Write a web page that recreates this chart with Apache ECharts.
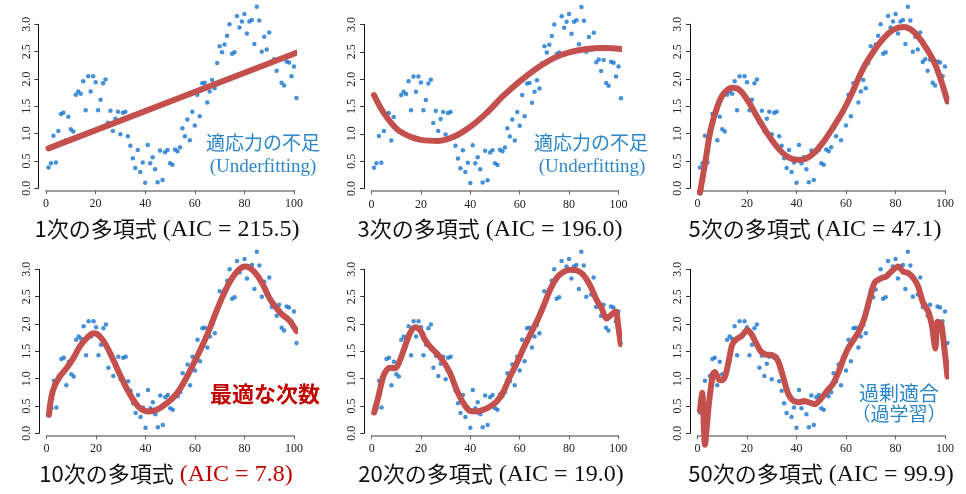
<!DOCTYPE html>
<html><head><meta charset="utf-8">
<script src="https://cdn.jsdelivr.net/npm/echarts@6/dist/echarts.min.js"></script>
<style>html,body{margin:0;padding:0;background:#fff}#c{width:966px;height:494px}</style>
</head><body><div id="c"></div>
<script>
// observed data (x = 1..101)
const obsY = [0.38,0.46,0.96,0.47,1.05,1.36,1.38,0.88,1.31,1.08,
1.04,1.71,1.77,1.73,1.96,1.43,2.05,1.77,2.05,1.94,
1.43,1.62,1.92,1.99,1.20,1.42,1.05,1.27,1.40,0.99,
1.38,1.40,0.95,0.78,0.55,0.37,0.70,0.30,0.47,0.10,
0.79,0.46,0.57,0.35,0.11,0.69,0.15,0.66,0.70,0.46,
0.43,0.71,0.68,0.75,1.10,0.95,1.26,0.88,1.40,1.15,
1.71,1.32,1.92,1.93,1.57,1.77,1.98,1.83,2.29,2.60,
2.49,2.63,2.79,3.00,2.46,2.49,3.15,2.94,3.05,3.19,
2.83,3.05,3.08,2.64,3.32,3.07,2.50,2.77,2.54,2.85,
2.31,2.36,2.15,2.35,1.93,1.88,2.32,2.30,2.05,2.23,1.65];

// fitted curves [x, y]
const fit1 = [[1,0.73],[101,2.48]];
const fit3 = [[1,1.71],[5,1.38],[10,1.10],[15,0.96],[20,0.89],[27,0.87],[33,0.94],[40,1.13],[47,1.40],[53,1.68],[60,1.96],[67,2.20],[74,2.39],[80,2.49],[87,2.55],[94,2.57],[101,2.55]];
const fit5 = [[1,-0.08],[3.3,0.52],[5.3,1.07],[8,1.49],[10.7,1.74],[14,1.84],[16.7,1.81],[20.1,1.62],[24.1,1.31],[28.1,1.01],[32.1,0.76],[36.2,0.58],[40.2,0.52],[42.9,0.53],[46.9,0.64],[50.9,0.85],[55,1.13],[59,1.43],[63,1.80],[67,2.20],[71.1,2.50],[75.1,2.74],[79.1,2.90],[83.2,2.95],[87.2,2.87],[91.2,2.65],[95.2,2.35],[97.9,2.04],[101,1.59]];
const fit10 = [[1,0.34],[2,0.67],[3.4,0.88],[5.4,1.04],[8.1,1.19],[10.8,1.37],[13.5,1.59],[16.2,1.74],[19.2,1.83],[21.6,1.77],[24.3,1.59],[27,1.34],[29.7,1.07],[32.4,0.82],[35.1,0.61],[37.8,0.46],[41.2,0.40],[44.6,0.43],[48.6,0.55],[52.7,0.73],[56.8,1.04],[60.8,1.40],[64.9,1.80],[68.9,2.26],[73,2.68],[77,2.96],[80.4,3.05],[83.8,2.96],[87.2,2.74],[90.5,2.44],[94.6,2.20],[98,2.07],[101,1.87]];
const fit20 = [[1,0.38],[2.7,0.67],[4.7,1.04],[6.1,1.16],[7.4,1.20],[9.5,1.19],[11.5,1.34],[13.5,1.59],[15.5,1.83],[17.6,1.94],[19.6,1.89],[21.6,1.71],[23.6,1.59],[26.4,1.46],[29.1,1.31],[31.8,1.10],[34.5,0.79],[37.2,0.55],[39.9,0.41],[42.6,0.40],[45.3,0.43],[48,0.49],[50.7,0.58],[53.4,0.76],[56.1,1.04],[58.8,1.28],[61.5,1.55],[64.2,1.80],[66.9,2.04],[69.6,2.32],[72.3,2.62],[75,2.84],[77.7,2.95],[80.4,2.99],[83.1,2.98],[85.8,2.90],[88.5,2.71],[91.2,2.44],[93.2,2.29],[95.3,2.10],[96.9,2.16],[98.9,2.23],[100,1.95],[101,1.63]];
const fit50 = [[1,0.42],[1.9,0.74],[3.0,-0.21],[4.5,0.50],[6.2,1.08],[7,1.12],[8.7,0.98],[10,0.97],[11.3,1.06],[12.7,1.34],[14,1.62],[15.7,1.72],[17.8,1.78],[20.1,1.89],[21.7,1.82],[23.7,1.65],[25.7,1.49],[27.8,1.44],[30.2,1.43],[32.4,1.34],[34.5,1.05],[36.5,0.74],[38.6,0.60],[41.3,0.57],[42.9,0.59],[45.4,0.56],[47.4,0.53],[49.5,0.61],[52.1,0.76],[54.8,0.91],[56.8,1.10],[58.8,1.34],[60.8,1.55],[63.5,1.74],[65.5,1.89],[67.6,2.13],[69.6,2.47],[71.6,2.76],[74.3,2.84],[76.3,2.87],[78.3,2.96],[81.1,3.05],[83.1,2.96],[85.1,2.93],[87.2,2.84],[89.2,2.68],[91.2,2.38],[93.2,2.23],[94.7,1.98],[96.1,1.55],[97.0,2.04],[98.4,2.01],[99.5,1.65],[101,1.04]];

const fits = [fit1, fit3, fit5, fit10, fit20, fit50];
const smoothness = [0, 0.4, 0.4, 0.4, 0.35, 0.25];
const degreeLabels = ['1次の多項式', '3次の多項式', '5次の多項式', '10次の多項式', '20次の多項式', '50次の多項式'];
const aicLabels = ['(AIC = 215.5)', '(AIC = 196.0)', '(AIC = 47.1)', '(AIC = 7.8)', '(AIC = 19.0)', '(AIC = 99.9)'];
const xTicks = [0, 100, 20];
const yTicks = [0, 3, 0.5];

const layout = [
  {left:46, top:24.3, w:248, tx:167, ty:229},
  {left:371.5, top:24.5, w:247, tx:490, ty:229},
  {left:697.5, top:24.3, w:247.5, tx:815, ty:229},
  {left:46.5, top:269.3, w:247.5, tx:166, ty:474},
  {left:371.7, top:269.3, w:246.6, tx:491, ty:474},
  {left:697.5, top:269.3, w:247.5, tx:821, ty:474}
];
const H = 164;
const ptColor = '#1874cd';
const lnColor = '#c4504d';
const serif = '"Liberation Serif"';
const cjk = '"Noto Sans CJK JP"';
const cjkFont = '22px "Noto Sans CJK JP"';
const serifFont = '24px "Liberation Serif"';
const gap = 6;

const mctx = document.createElement('canvas').getContext('2d');
function textW(t, f) { mctx.font = f; return mctx.measureText(t).width; }

const grid = [], xAxis = [], yAxis = [], series = [], graphic = [];
const obsData = obsY.map((v, i) => [i + 1, v]);
layout.forEach((p, i) => {
  grid.push({left: p.left, top: p.top, width: p.w, height: H});
  xAxis.push({gridIndex:i, type:'value', min:xTicks[0], max:xTicks[1], interval:xTicks[2], offset:2,
    axisLine:{show:true, onZero:false, lineStyle:{color:'#808080', width:1.5}},
    axisTick:{show:true, length:4, lineStyle:{color:'#666'}},
    axisLabel:{margin:8, fontFamily:serif, fontSize:12, color:'#222'},
    splitLine:{show:false}});
  yAxis.push({gridIndex:i, type:'value', min:yTicks[0], max:yTicks[1], interval:yTicks[2], offset:7.5,
    axisLine:{show:true, onZero:false, lineStyle:{color:'#111', width:1}},
    axisTick:{show:true, length:4, lineStyle:{color:'#333'}},
    axisLabel:{rotate:90, margin:6, fontFamily:serif, fontSize:12, color:'#222', formatter:v => v.toFixed(1)},
    splitLine:{show:false}});
  series.push({type:'scatter', xAxisIndex:i, yAxisIndex:i, data:obsData, symbolSize:4.5, clip:false,
    itemStyle:{color:ptColor}, silent:true, z:2});
  series.push({type:'line', xAxisIndex:i, yAxisIndex:i, data:fits[i], showSymbol:false, clip:false,
    smooth:smoothness[i], lineStyle:{color:lnColor, width:6, cap:'round', join:'round'}, silent:true, z:3});
  const aicColor = i === 3 ? '#c00000' : '#111';
  const w1 = textW(degreeLabels[i], cjkFont), w2 = textW(aicLabels[i], serifFont);
  const x0 = p.tx - (w1 + gap + w2) / 2;
  graphic.push({type:'text', x:x0, y:p.ty, style:{text:degreeLabels[i], align:'left', verticalAlign:'middle', font:cjkFont, fill:'#111'}});
  graphic.push({type:'text', x:x0 + w1 + gap, y:p.ty + 1, style:{text:aicLabels[i], align:'left', verticalAlign:'middle', font:serifFont, fill:aicColor}});
});

const blue = '#2a86c9';
graphic.push(
  {type:'text', x:263, y:143, style:{text:'適応力の不足', align:'center', verticalAlign:'middle', font:'19px "Noto Sans CJK JP"', fill:blue}},
  {type:'text', x:263, y:167, style:{text:'(Underfitting)', align:'center', verticalAlign:'middle', font:'19px "Liberation Serif"', fill:blue}},
  {type:'text', x:591, y:143, style:{text:'適応力の不足', align:'center', verticalAlign:'middle', font:'19px "Noto Sans CJK JP"', fill:blue}},
  {type:'text', x:592, y:167, style:{text:'(Underfitting)', align:'center', verticalAlign:'middle', font:'19px "Liberation Serif"', fill:blue}},
  {type:'text', x:265, y:394, style:{text:'最適な次数', align:'center', verticalAlign:'middle', font:'bold 22px "Noto Sans CJK JP"', fill:'#c00000'}},
  {type:'text', x:899, y:393, style:{text:'過剰適合', align:'center', verticalAlign:'middle', font:'20px "Noto Sans CJK JP"', fill:blue}},
  {type:'text', x:899, y:414, style:{text:'（過学習）', align:'center', verticalAlign:'middle', font:'19px "Noto Sans CJK JP"', fill:blue}}
);

const chart = echarts.init(document.getElementById('c'), null, {renderer:'canvas'});
chart.setOption({animation:false, backgroundColor:'#fff', grid, xAxis, yAxis, series, graphic});
</script></body></html>
